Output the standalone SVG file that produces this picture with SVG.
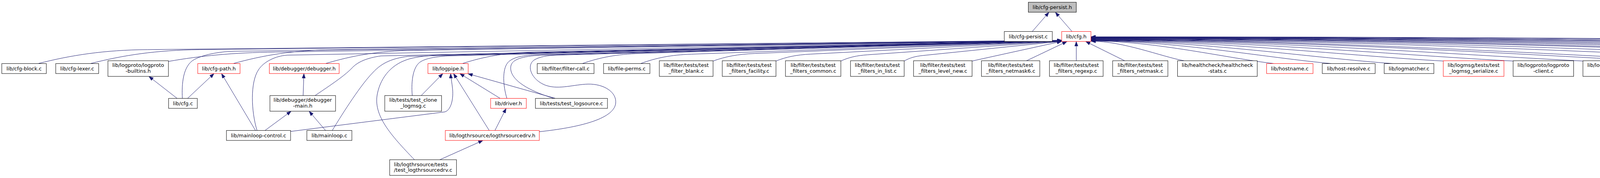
<svg xmlns="http://www.w3.org/2000/svg" width="6892" height="455" viewBox="0 0 6892 455">
<style>
text{font-family:"DejaVu Sans","Liberation Sans",sans-serif;font-size:13px;fill:#000}
.c{text-anchor:middle}
.l{text-anchor:start}
rect{fill:#fff;stroke:#000;stroke-width:1}
rect.r{stroke:#ff0000}
rect.g{fill:#bfbfbf}
.e path{fill:none;stroke:#191970;stroke-width:1;marker-end:url(#ah)}
</style>
<defs>
<marker id="ah" markerUnits="userSpaceOnUse" viewBox="0 0 12 9" refX="12" refY="4.5" markerWidth="12" markerHeight="9" orient="auto">
<path d="M0,0 L12,4.5 L0,9 Z" fill="#191970" stroke="#191970" stroke-width="0.5"/>
</marker>
</defs>
<rect x="0" y="0" width="6892" height="455" style="fill:#fff;stroke:none"/>
<g id="edges" class="e">
<path d="M2642.6,80.5 L2685.4,31.3"/>
<path d="M2744.4,80.5 L2701.6,31.3"/>
<path d="M97.6,162.5 C181.6,141.1 265.6,127.9 377.6,126.8 L2718,103"/>
<path d="M231.5,162.5 C315.5,141.1 399.5,128.1 511.5,126.9 L2718,103.1"/>
<path d="M431.2,157 C513.5,142.6 595.6,134.6 705.6,133 L2718,103.4"/>
<path d="M466.8,251.5 C465,215 468,168 497.5,152 C524,137.6 570,131.5 600,131 L2718,103.6"/>
<path d="M597,162.5 C673.4,141.3 749.7,128.4 851.5,127.1 L2718,103.5"/>
<path d="M658,333.5 C643,285 640,210 662,178 C675,158 705,143 735,141 L2718,103.7"/>
<path d="M833.4,162.5 C901.2,142.2 969,130 1059.4,128.6 L2718,103.8"/>
<path d="M806.6,244.25 C850,215 880,195 900,175 C915,158 940,148 975,143 L2718,103.9"/>
<path d="M850.6,333.5 C880,285 925,215 955,185 C978,160 1005,149 1045,144 L2718,104"/>
<path d="M1055.4,244.25 C1052,205 1058,168 1078,157 C1092,149 1115,145 1145,143 L2718,104.1"/>
<path d="M1061,408.3 C1000,345 955,295 966,240 C975,195 1005,162 1050,150 C1070,145 1095,142 1120,141 L2718,104.2"/>
<path d="M1183.6,162.5 C1238.8,144.7 1294,134.5 1367.6,132.9 L2718,104.2"/>
<path d="M1297.6,251.5 C1288,220 1285,178 1300,160 C1312,147 1335,142 1370,140 L2718,104.3"/>
<path d="M1418,251.5 C1340,228 1302,198 1308,168 C1312,152 1335,144 1385,141 L2718,104.4"/>
<path d="M1380.6,336.7 C1480,326 1570,305 1576,265 C1580,235 1545,214 1505,215 C1470,216 1432,229 1400,219 C1362,207 1345,168 1368,153 C1382,145 1400,142 1425,141 L2718,104.5"/>
<path d="M1490.8,162.5 C1535,147 1579.2,138.4 1638.1,136.7 L2718,104.6"/>
<path d="M1640,162.5 C1678.8,148.1 1717.6,140.3 1769.4,138.5 L2718,104.8"/>
<path d="M1825.4,156 C1857.5,144.4 1889.7,138.4 1932.5,136.7 L2718,105"/>
<path d="M1986.5,156 C2012.8,145.4 2039.2,140.2 2074.3,138.4 L2718,105.2"/>
<path d="M2152.6,156 C2173,146.5 2193.4,142 2220.4,140.1 L2718,105.35"/>
<path d="M2314.7,156 C2329.2,147.5 2343.8,143.8 2363.1,141.8 L2718,105.5"/>
<path d="M2488.5,156 L2718,105.7"/>
<path d="M2628,155.25 L2731.6,106"/>
<path d="M2755.3,155.25 L2755.3,106"/>
<path d="M2879,155.25 L2779.3,106"/>
<path d="M3031,155.25 C2971.5,144.1 2876.3,105.3 2793,105.3"/>
<path d="M3261.7,162.5 C3144.5,149.5 2957,104.6 2793,104.6"/>
<path d="M3409,162.5 C3255,149.4 3008.6,104.1 2793,104.1"/>
<path d="M3565.8,162.5 C3372.6,149.3 3063.5,103.65 2793,103.65"/>
<path d="M3694.8,156 C3469.3,144.1 3108.6,103.3 2793,103.3"/>
<path d="M3873.6,156 C3603.4,142.5 3171.2,102.7 2793,102.7"/>
<path d="M4052.3,156 C3737.5,140.3 3233.8,102.2 2793,102.2"/>
<path d="M4230.7,156 C3871.3,138 3296.2,101.6 2793,101.6"/>
<path d="M4455,162.5 C4039.5,141.7 3374.7,101 2793,101"/>
<path d="M4583,156 C4135.5,133.6 3419.5,100.6 2793,100.6"/>
<path d="M4785.6,156 C4287.4,131.1 3490.4,100 2793,100"/>
<path d="M4997.1,156 C4446.1,128.4 3564.4,99.3 2793,99.3"/>
<path d="M5255.4,162.5 C4639.8,131.7 3654.8,98.5 2793,98.5"/>
<path d="M5448,162.5 C4784.2,129.3 3722.3,97.9 2793,97.9"/>
<path d="M5623,162.5 C4915.5,127.1 3783.5,97.4 2793,97.4"/>
<path d="M5813,162.5 C5058,124.75 3850,96.8 2793,96.8"/>
<path d="M5949,244.25 C5975,215 5992,180 5976,160 C5965,147 5935,143 5895,142 C5119.5,122.6 3878.7,96.6 2793,96.6"/>
<path d="M6034.5,156 C5224.1,115.5 3927.5,96.15 2793,96.15"/>
<path d="M6233,156 C5373,113 3997,95.55 2793,95.55"/>
<path d="M6429,162.5 C5520,117 4065.6,95 2793,95"/>
<path d="M6580.5,156 C5633.6,108.7 4118.6,94.5 2793,94.5"/>
<path d="M6743.5,156 C5755.9,106.6 4175.7,94 2793,94"/>
<path d="M453.4,251.5 L381,195.25"/>
<path d="M480.2,251.5 L548,188"/>
<path d="M654,333.5 L567,188"/>
<path d="M678.4,333.5 L745.4,284.25"/>
<path d="M833.4,333.5 L791.3,284.25"/>
<path d="M776,244.25 L778,188"/>
<path d="M1078.3,244.25 L1133.8,188"/>
<path d="M743.9,336 L1139,286 C1155,281 1162,252 1158,222 C1156,206 1154,196 1153.7,188"/>
<path d="M1126,408.3 L1236.4,359"/>
<path d="M1252.4,333.5 L1161,188"/>
<path d="M1267,333.5 L1295.7,277"/>
<path d="M1280.4,251.5 L1177,188"/>
<path d="M1422,251.5 L1198,188.5"/>
<path d="M5917,244.25 L5877.4,188"/>
</g>
<g id="n-cfg-persist-h"><rect class="g" x="2632.5" y="5.75" width="122.8" height="25.5"/><text class="c" x="2693.9" y="23">lib/cfg-persist.h</text></g>
<g id="n-cfg-persist-c"><rect x="2571" y="80.5" width="122.9" height="25.5"/><text class="c" x="2632.45" y="97.75">lib/cfg-persist.c</text></g>
<g id="n-cfg-h"><rect class="r" x="2717.9" y="80.5" width="74.9" height="25.5"/><text class="c" x="2755.35" y="97.75">lib/cfg.h</text></g>
<g id="n-cfg-block"><rect x="4.6" y="162.5" width="114" height="25.5"/><text class="c" x="61.6" y="179.75">lib/cfg-block.c</text></g>
<g id="n-cfg-lexer"><rect x="142.7" y="162.5" width="109.9" height="25.5"/><text class="c" x="197.65" y="179.75">lib/cfg-lexer.c</text></g>
<g id="n-logproto-builtins"><rect x="276.3" y="155.25" width="154.9" height="40"/><text class="c" x="353.75" y="171.45">lib/logproto/logproto</text><text class="c" x="353.75" y="186.25">-builtins.h</text></g>
<g id="n-cfg-path"><rect class="r" x="506.2" y="162.5" width="108.3" height="25.5"/><text class="c" x="560.35" y="179.75">lib/cfg-path.h</text></g>
<g id="n-cfg-c"><rect x="431.6" y="251.5" width="73.5" height="25.5"/><text class="c" x="468.35" y="268.75">lib/cfg.c</text></g>
<g id="n-mainloop-control"><rect x="579.7" y="333.5" width="164.2" height="25.5"/><text class="c" x="661.8" y="350.75">lib/mainloop-control.c</text></g>
<g id="n-debugger-h"><rect class="r" x="689.5" y="162.5" width="178.7" height="25.5"/><text class="c" x="778.85" y="179.75">lib/debugger/debugger.h</text></g>
<g id="n-debugger-main"><rect x="691" y="244.25" width="168" height="40"/><text class="c" x="775" y="260.45">lib/debugger/debugger</text><text class="c" x="775" y="275.25">-main.h</text></g>
<g id="n-mainloop"><rect x="785.6" y="333.5" width="115.2" height="25.5"/><text class="c" x="843.2" y="350.75">lib/mainloop.c</text></g>
<g id="n-test-clone"><rect x="985" y="244.25" width="145.4" height="40"/><text class="c" x="1057.7" y="260.45">lib/tests/test_clone</text><text class="c" x="1057.7" y="275.25">_logmsg.c</text></g>
<g id="n-logpipe"><rect class="r" x="1095.5" y="162.5" width="103" height="25.5"/><text class="c" x="1147" y="179.75">lib/logpipe.h</text></g>
<g id="n-test-logthrsourcedrv"><rect x="997.6" y="408.3" width="171" height="40"/><text class="l" x="1008.6" y="424.5">lib/logthrsource/tests</text><text class="l" x="1008.6" y="439.3">/test_logthrsourcedrv.c</text></g>
<g id="n-logthrsourcedrv"><rect class="r" x="1140" y="333.5" width="240.6" height="25.5"/><text class="c" x="1260.3" y="350.75">lib/logthrsource/logthrsourcedrv.h</text></g>
<g id="n-driver"><rect class="r" x="1256" y="251.5" width="91.3" height="25.5"/><text class="c" x="1301.65" y="268.75">lib/driver.h</text></g>
<g id="n-test-logsource"><rect x="1370.7" y="251.5" width="184.4" height="25.5"/><text class="c" x="1462.9" y="268.75">lib/tests/test_logsource.c</text></g>
<g id="n-filter-call"><rect x="1375.3" y="162.5" width="145.4" height="25.5"/><text class="c" x="1448" y="179.75">lib/filter/filter-call.c</text></g>
<g id="n-file-perms"><rect x="1545.1" y="162.5" width="118.7" height="25.5"/><text class="c" x="1604.45" y="179.75">lib/file-perms.c</text></g>
<g id="n-filter-blank"><rect x="1687.9" y="155.25" width="137.5" height="40"/><text class="c" x="1756.65" y="171.45">lib/filter/tests/test</text><text class="c" x="1756.65" y="186.25">_filter_blank.c</text></g>
<g id="n-filters-facility"><rect x="1849" y="155.25" width="137.5" height="40"/><text class="c" x="1917.75" y="171.45">lib/filter/tests/test</text><text class="c" x="1917.75" y="186.25">_filters_facility.c</text></g>
<g id="n-filters-common"><rect x="2010.8" y="155.25" width="141.8" height="40"/><text class="c" x="2081.7" y="171.45">lib/filter/tests/test</text><text class="c" x="2081.7" y="186.25">_filters_common.c</text></g>
<g id="n-filters-in-list"><rect x="2177.3" y="155.25" width="137.4" height="40"/><text class="c" x="2246" y="171.45">lib/filter/tests/test</text><text class="c" x="2246" y="186.25">_filters_in_list.c</text></g>
<g id="n-filters-level-new"><rect x="2338.7" y="155.25" width="149.8" height="40"/><text class="c" x="2413.6" y="171.45">lib/filter/tests/test</text><text class="c" x="2413.6" y="186.25">_filters_level_new.c</text></g>
<g id="n-filters-netmask6"><rect x="2512.5" y="155.25" width="149.4" height="40"/><text class="c" x="2587.2" y="171.45">lib/filter/tests/test</text><text class="c" x="2587.2" y="186.25">_filters_netmask6.c</text></g>
<g id="n-filters-regexp"><rect x="2686.6" y="155.25" width="137.4" height="40"/><text class="c" x="2755.3" y="171.45">lib/filter/tests/test</text><text class="c" x="2755.3" y="186.25">_filters_regexp.c</text></g>
<g id="n-filters-netmask"><rect x="2848.4" y="155.25" width="141.4" height="40"/><text class="c" x="2919.1" y="171.45">lib/filter/tests/test</text><text class="c" x="2919.1" y="186.25">_filters_netmask.c</text></g>
<g id="n-healthcheck"><rect x="3014.5" y="155.25" width="204" height="40"/><text class="c" x="3116.5" y="171.45">lib/healthcheck/healthcheck</text><text class="c" x="3116.5" y="186.25">-stats.c</text></g>
<g id="n-hostname"><rect class="r" x="3242.5" y="162.5" width="118.8" height="25.5"/><text class="c" x="3301.9" y="179.75">lib/hostname.c</text></g>
<g id="n-host-resolve"><rect x="3385" y="162.5" width="135.4" height="25.5"/><text class="c" x="3452.7" y="179.75">lib/host-resolve.c</text></g>
<g id="n-logmatcher"><rect x="3543.5" y="162.5" width="127.2" height="25.5"/><text class="c" x="3607.1" y="179.75">lib/logmatcher.c</text></g>
<g id="n-logmsg-serialize"><rect class="r" x="3694.8" y="155.25" width="155.3" height="40"/><text class="c" x="3772.45" y="171.45">lib/logmsg/tests/test</text><text class="c" x="3772.45" y="186.25">_logmsg_serialize.c</text></g>
<g id="n-logproto-client"><rect x="3873.6" y="155.25" width="154.9" height="40"/><text class="c" x="3951.05" y="171.45">lib/logproto/logproto</text><text class="c" x="3951.05" y="186.25">-client.c</text></g>
<g id="n-logproto-server"><rect x="4052.3" y="155.25" width="154.9" height="40"/><text class="c" x="4129.75" y="171.45">lib/logproto/logproto</text><text class="c" x="4129.75" y="186.25">-server.c</text></g>
<g id="n-logthrfetcher"><rect x="4230.7" y="155.25" width="174" height="40"/><text class="l" x="4241.7" y="171.45">lib/logthrsource/tests</text><text class="l" x="4241.7" y="186.25">/test_logthrfetcherdrv.c</text></g>
<g id="n-msg-format"><rect x="4428.5" y="162.5" width="130.4" height="25.5"/><text class="c" x="4493.7" y="179.75">lib/msg-format.c</text></g>
<g id="n-multi-line"><rect x="4583" y="155.25" width="179.2" height="40"/><text class="l" x="4594" y="171.45">lib/multi-line/tests</text><text class="l" x="4594" y="186.25">/test_smart_multi_line.c</text></g>
<g id="n-xml-scanner"><rect x="4785.6" y="155.25" width="186.6" height="40"/><text class="l" x="4796.6" y="171.45">lib/scanner/xml-scanner</text><text class="l" x="4796.6" y="186.25">/tests/test_xml_scanner.c</text></g>
<g id="n-aggregator"><rect x="4997.1" y="155.25" width="198.9" height="40"/><text class="l" x="5008.1" y="171.45">lib/stats/aggregator</text><text class="l" x="5008.1" y="186.25">/stats-aggregator-registry.c</text></g>
<g id="n-stats-registry"><rect x="5219.4" y="162.5" width="175.1" height="25.5"/><text class="c" x="5306.95" y="179.75">lib/stats/stats-registry.c</text></g>
<g id="n-eval"><rect x="5419" y="162.5" width="144.2" height="25.5"/><text class="c" x="5491.1" y="179.75">lib/template/eval.c</text></g>
<g id="n-macros"><rect x="5587.3" y="162.5" width="164.7" height="25.5"/><text class="c" x="5669.65" y="179.75">lib/template/macros.c</text></g>
<g id="n-templates"><rect x="5775.8" y="162.5" width="182.7" height="25.5"/><text class="c" x="5867.15" y="179.75">lib/template/templates.c</text></g>
<g id="n-template-compile"><rect x="5837.7" y="244.25" width="186.7" height="40"/><text class="l" x="5848.7" y="260.45">lib/template/tests</text><text class="l" x="5848.7" y="275.25">/test_template_compile.c</text></g>
<g id="n-template-speed"><rect x="6034.5" y="155.25" width="174.4" height="40"/><text class="l" x="6045.5" y="171.45">lib/template/tests</text><text class="l" x="6045.5" y="186.25">/test_template_speed.c</text></g>
<g id="n-test-template"><rect x="6233" y="155.25" width="137.5" height="40"/><text class="c" x="6301.75" y="171.45">lib/template/tests</text><text class="c" x="6301.75" y="186.25">/test_template.c</text></g>
<g id="n-test-hostid"><rect x="6394.3" y="162.5" width="161.7" height="25.5"/><text class="c" x="6475.15" y="179.75">lib/tests/test_hostid.c</text></g>
<g id="n-test-host-resolve"><rect x="6580.5" y="155.25" width="138.9" height="40"/><text class="c" x="6649.95" y="171.45">lib/tests/test_host</text><text class="c" x="6649.95" y="186.25">_resolve.c</text></g>
<g id="n-test-lexer-block"><rect x="6743.5" y="155.25" width="143.2" height="40"/><text class="c" x="6815.1" y="171.45">lib/tests/test_lexer</text><text class="c" x="6815.1" y="186.25">_block.c</text></g>
</svg>
